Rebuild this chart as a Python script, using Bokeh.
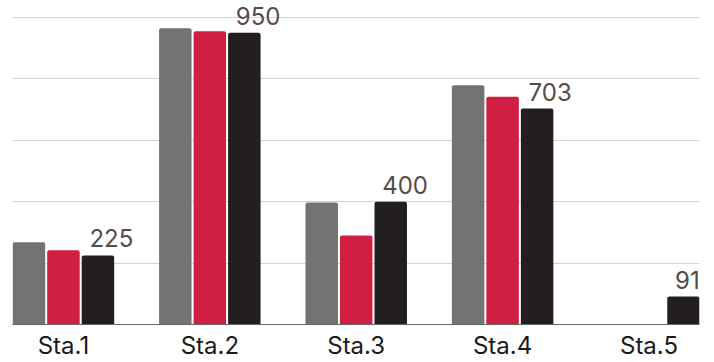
from bokeh.plotting import figure
from bokeh.models import ColumnDataSource, Range1d, FixedTicker, Grid
from bokeh.core.properties import value
from bokeh.embed import file_html
from bokeh.resources import INLINE

# ---- data ----
categories = ["Sta.1", "Sta.2", "Sta.3", "Sta.4", "Sta.5"]
series_gray = [268, 965, 397, 779, float("nan")]
series_red = [242, 955, 290, 742, float("nan")]
series_black = [225, 950, 400, 703, 91]
grid_ticks = [0, 200, 400, 600, 800, 1000]

# ---- styling ----
GRAY = "#737373"
RED = "#D01F42"
BLACK = "#231F20"
LABEL_COLOR = "#574A4A"
FONT = "Inter"

centers = [i + 0.5 for i in range(len(categories))]
offset = 0.2357
bar_w = 0.222

src = ColumnDataSource(dict(
    xc=centers,
    xg=[c - offset for c in centers],
    xr=centers,
    xb=[c + offset for c in centers],
    g=series_gray,
    r=series_red,
    b=series_black,
    lbl=[str(v) for v in series_black],
))

p = figure(width=714, height=362, output_backend="svg", toolbar_location=None,
           x_range=Range1d(0.152, 4.845), y_range=Range1d(0, 1055),
           y_axis_location=None, min_border_left=12, min_border_right=15,
           min_border_top=0, min_border_bottom=0)
p.outline_line_color = None
p.xgrid.visible = False

grid = Grid(dimension=1, ticker=FixedTicker(ticks=grid_ticks),
            grid_line_color="#D3D3D3", grid_line_width=1)
p.add_layout(grid)

for col, xcol, color in (("g", "xg", GRAY), ("r", "xr", RED), ("b", "xb", BLACK)):
    p.vbar(x=xcol, top=col, bottom=0, width=bar_w, source=src,
           fill_color=color, line_color=None, border_radius=[2, 2, 0, 0])

p.text(x="xb", y="b", text="lbl", source=src, text_align="left",
       text_baseline="bottom", x_offset=-8.5, y_offset=-8,
       text_font=value(FONT), text_font_size="24px", text_color=LABEL_COLOR)

ax = p.xaxis[0]
ax.ticker = FixedTicker(ticks=centers)
ax.major_label_overrides = {c: name for c, name in zip(centers, categories)}
ax.major_tick_line_color = None
ax.minor_tick_line_color = None
ax.major_tick_out = 0
ax.major_tick_in = 0
ax.axis_line_color = "#666666"
ax.axis_line_width = 1
ax.major_label_standoff = 6
ax.major_label_text_font = FONT
ax.major_label_text_font_size = "24px"
ax.major_label_text_color = "#1A1A1A"

open("out.html", "w").write(file_html(p, INLINE))
